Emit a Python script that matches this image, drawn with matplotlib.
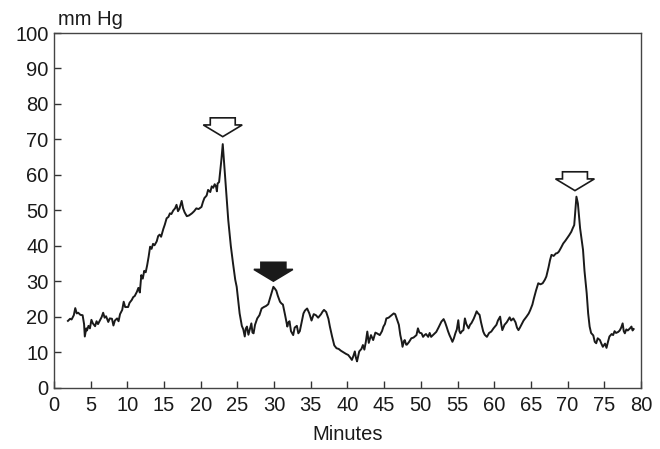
import matplotlib
matplotlib.use("Agg")
import matplotlib.pyplot as plt
from matplotlib.patches import Polygon

# pressure trace (minutes, mm Hg)
minutes = [
    1.9, 2.2, 2.4, 2.7, 2.9, 3.1, 3.3, 3.6, 3.9, 4.1, 4.2, 4.4, 4.5, 4.7, 4.9,
    5.1, 5.3, 5.6, 5.8, 6.0, 6.3, 6.5, 6.7, 6.9, 7.1, 7.4, 7.6, 7.9, 8.1, 8.3,
    8.6, 8.8, 9.0, 9.3, 9.5, 9.7, 10.1, 10.3, 10.6, 10.8, 11.0, 11.3, 11.5, 11.7,
    11.9, 12.1, 12.3, 12.5, 12.7, 12.9, 13.1, 13.3, 13.5, 13.7, 14.0, 14.2, 14.4,
    14.6, 14.9, 15.1, 15.35, 15.6, 15.8, 16.0, 16.25, 16.5, 16.7, 16.9, 17.1,
    17.4, 17.6, 17.8, 18.1, 18.4, 18.8, 19.1, 19.4, 19.7, 20.1, 20.3, 20.5, 20.8,
    21.0, 21.3, 21.5, 21.7, 21.9, 22.1, 22.2, 22.3, 22.5, 22.8, 23.0, 23.3, 23.75,
    24.1, 24.4, 24.7, 24.9, 25.1, 25.3, 25.6, 25.8, 26.0, 26.15, 26.3, 26.5, 26.7,
    26.9, 27.05, 27.2, 27.4, 27.7, 28.0, 28.3, 28.6, 28.9, 29.2, 29.5, 29.7, 29.9,
    30.1, 30.3, 30.5, 30.8, 31.0, 31.2, 31.5, 31.8, 31.95, 32.1, 32.3, 32.6, 32.8,
    33.1, 33.3, 33.5, 33.8, 34.0, 34.2, 34.5, 34.8, 35.1, 35.4, 35.7, 36.0, 36.4,
    36.6, 36.8, 37.1, 37.4, 37.6, 37.9, 38.2, 38.5, 38.8, 39.1, 39.5, 39.8, 40.1,
    40.4, 40.6, 40.8, 41.0, 41.15, 41.3, 41.6, 41.9, 42.1, 42.3, 42.5, 42.7, 42.9,
    43.2, 43.5, 43.8, 44.0, 44.4, 44.7, 44.9, 45.1, 45.3, 45.6, 46.0, 46.3, 46.5,
    46.8, 47.0, 47.2, 47.4, 47.5, 47.7, 47.8, 48.0, 48.1, 48.4, 48.7, 49.0, 49.4,
    49.6, 49.8, 50.1, 50.3, 50.5, 50.7, 51.0, 51.2, 51.4, 51.7, 52.1, 52.4, 52.8,
    53.1, 53.3, 53.5, 53.7, 53.9, 54.1, 54.3, 54.5, 54.7, 54.9, 55.1, 55.25, 55.4,
    55.6, 55.8, 56.0, 56.2, 56.5, 56.7, 56.9, 57.2, 57.4, 57.6, 57.8, 58.0, 58.2,
    58.5, 58.7, 59.0, 59.3, 59.6, 59.9, 60.3, 60.5, 60.8, 60.95, 61.1, 61.4, 61.7,
    62.1, 62.3, 62.6, 62.9, 63.1, 63.3, 63.5, 63.7, 64.0, 64.4, 64.7, 64.9, 65.2,
    65.4, 65.7, 66.0, 66.3, 66.6, 66.9, 67.1, 67.4, 67.6, 67.8, 68.1, 68.4, 68.6,
    68.8, 69.1, 69.4, 69.7, 69.9, 70.2, 70.5, 70.7, 70.9, 71.05, 71.2, 71.4, 71.7,
    72.1, 72.3, 72.6, 72.8, 73.0, 73.2, 73.5, 73.7, 73.9, 74.1, 74.4, 74.6, 74.8,
    75.1, 75.3, 75.5, 75.7, 76.0, 76.2, 76.4, 76.6, 76.9, 77.1, 77.3, 77.5, 77.65,
    77.8, 78.0, 78.2, 78.5, 78.7, 78.85, 79.0,
]
pressure = [
    18.9, 19.5, 19.3, 20.5, 22.5, 21.0, 21.2, 20.6, 20.5, 18.0, 14.5, 16.8, 16.2, 17.5, 16.8,
    19.2, 18.2, 17.4, 18.8, 18.0, 19.2, 20.0, 21.2, 19.8, 20.2, 18.6, 19.6, 19.5, 17.6, 19.0,
    19.6, 18.8, 20.8, 22.0, 24.3, 22.8, 22.8, 24.0, 24.8, 25.6, 25.9, 27.1, 28.2, 26.9,
    31.8, 30.8, 33.0, 32.6, 34.6, 37.0, 39.8, 39.2, 40.6, 40.2, 41.3, 42.8, 43.2,
    42.6, 44.8, 46.0, 47.8, 48.2, 49.2, 49.0, 50.0, 50.6, 51.6, 49.8, 50.5,
    52.7, 50.6, 49.5, 48.4, 48.6, 49.2, 49.8, 50.6, 50.4, 51.0, 52.4, 53.5, 54.2,
    55.8, 55.2, 56.8, 56.4, 57.4, 56.6, 55.4, 57.6, 58.0, 64.0, 68.7, 60.0, 47.3,
    40.0, 35.1, 30.5, 28.5, 24.7, 21.0, 17.5, 16.5, 14.5, 16.8, 17.3, 15.0, 16.6,
    18.2, 15.6, 15.4, 17.8, 19.6, 20.5, 22.4, 22.8, 23.1, 23.6, 25.7, 27.0, 28.5,
    28.0, 27.4, 26.0, 24.3, 23.8, 23.5, 20.5, 17.3, 18.5, 18.8, 16.0, 14.9, 17.0,
    17.5, 15.4, 16.0, 19.0, 21.0, 21.8, 22.4, 21.0, 19.0, 20.8, 20.5, 19.8, 20.8,
    21.5, 22.0, 21.4, 19.5, 17.3, 14.5, 12.0, 11.2, 11.0, 10.5, 10.0, 9.6, 9.3,
    8.5, 7.9, 9.0, 10.3, 8.5, 7.5, 10.3, 11.0, 12.1, 10.8, 13.0, 15.9, 12.7,
    14.9, 13.5, 15.6, 15.4, 14.9, 16.0, 17.3, 18.0, 19.6, 19.8, 20.5, 21.0, 20.8,
    19.0, 17.8, 14.9, 13.0, 11.6, 13.2, 13.5, 12.2, 12.2, 13.0, 14.0, 14.2, 14.9,
    16.8, 15.6, 15.4, 14.4, 14.9, 15.2, 14.4, 15.5, 14.4, 15.0, 15.8, 17.0, 18.7,
    19.4, 18.5, 17.3, 16.0, 14.9, 14.0, 13.0, 14.0, 15.4, 16.5, 19.1, 16.0, 15.4,
    16.0, 16.3, 19.6, 18.0, 16.8, 17.8, 18.3, 19.5, 20.5, 21.6, 21.0, 20.6, 18.5,
    15.9, 15.0, 14.4, 15.5, 15.9, 16.8, 17.8, 19.0, 20.1, 18.0, 16.3, 17.8, 18.5,
    19.9, 19.0, 19.6, 18.5, 17.0, 16.3, 17.0, 17.8, 19.0, 20.1, 21.0, 21.9, 23.5,
    25.2, 27.5, 29.5, 29.2, 29.5, 30.5, 31.4, 34.0, 36.0, 37.5, 37.2, 37.9, 38.0,
    38.4, 39.5, 40.7, 41.5, 42.1, 43.0, 44.0, 45.0, 45.9, 50.0, 53.9, 52.0, 45.0,
    38.9, 33.0, 26.7, 21.0, 17.3, 15.5, 14.8, 13.0, 12.6, 14.0, 13.5, 12.5, 11.6,
    12.5, 11.3, 13.0, 14.5, 15.2, 14.9, 16.0, 15.5, 15.8, 16.2, 17.0, 18.2, 16.0,
    15.4, 16.5, 16.2, 16.8, 17.3, 16.2, 16.6,
]

# event markers: tip position and whether the arrow is filled
arrow_x = [23.0, 29.9, 71.0]
arrow_tip = [70.8, 30.1, 55.6]
arrow_filled = [False, True, False]

plt.rcParams['font.family'] = ['Liberation Sans', 'DejaVu Sans']
ink = '#1a1a1a'

fig = plt.figure(figsize=(6.6, 4.49), dpi=100)
ax = fig.add_axes([0.0818, 0.1359, 0.8894, 0.7906])

ax.plot(minutes, pressure, color=ink, lw=1.4, solid_joinstyle='round')


# block arrow pointing down with its tip at (x, y)
def down_arrow(x, y, filled):
    head_w = 2.65
    shaft_w = 1.7
    head_h = 3.3
    shaft_h = 2.0
    pts = [
        (x, y),
        (x - head_w, y + head_h),
        (x - shaft_w, y + head_h),
        (x - shaft_w, y + head_h + shaft_h),
        (x + shaft_w, y + head_h + shaft_h),
        (x + shaft_w, y + head_h),
        (x + head_w, y + head_h),
    ]
    face = ink if filled else 'white'
    ax.add_patch(Polygon(pts, closed=True, facecolor=face, edgecolor=ink,
                         lw=1.2, joinstyle='miter', zorder=3))


for x, y, f in zip(arrow_x, arrow_tip, arrow_filled):
    down_arrow(x, y, f)

ax.set_xlim(0, 80)
ax.set_ylim(0, 100)
ax.set_xticks(range(0, 81, 5))
ax.set_yticks(range(0, 101, 10))
ax.tick_params(axis='both', direction='in', length=5, width=1, color='#333333',
               labelsize=14.5, labelcolor=ink)
ax.tick_params(axis='x', pad=6)
ax.tick_params(axis='y', pad=4)
for s in ax.spines.values():
    s.set_color('#444444')
    s.set_linewidth(1.0)

ax.set_xlabel('Minutes', fontsize=14.5, color=ink, labelpad=7)
fig.text(0.088, 0.944, 'mm Hg', fontsize=14.5, color=ink, va='baseline', ha='left')

fig.savefig('out.png', dpi=100)
